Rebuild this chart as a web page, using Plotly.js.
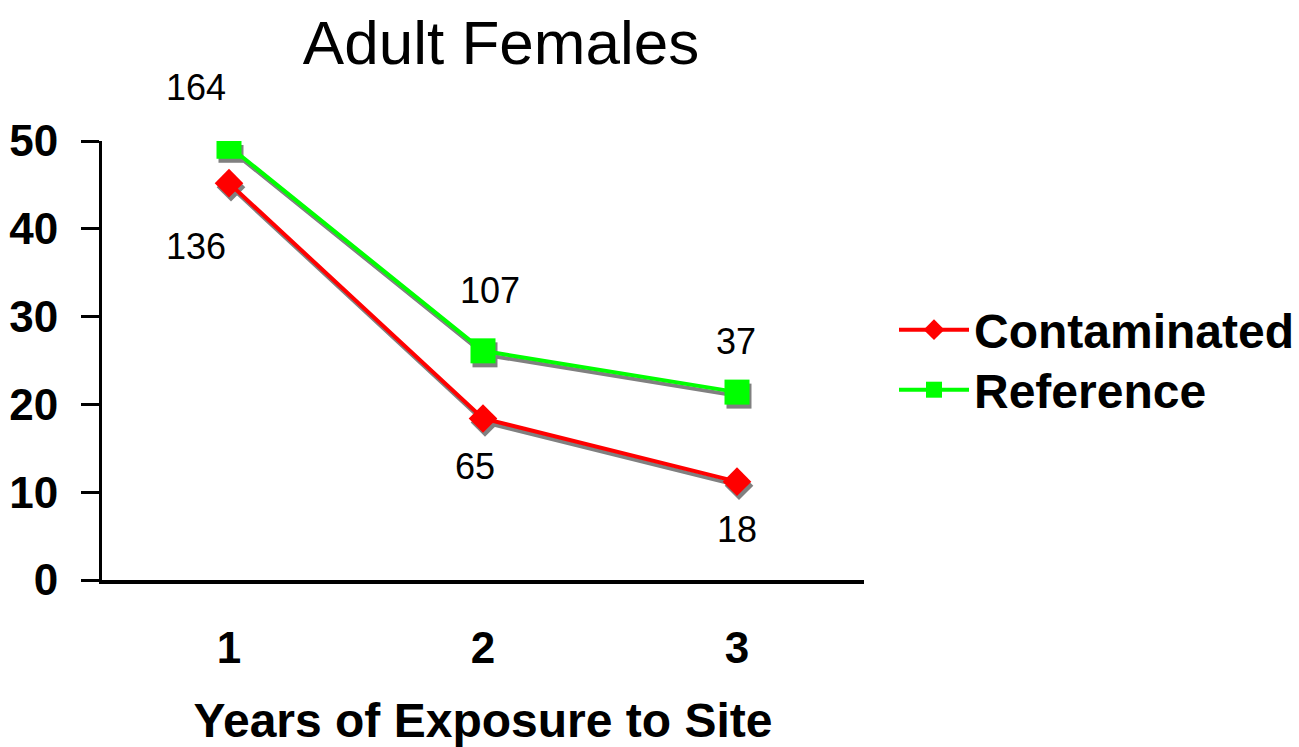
<!DOCTYPE html>
<html>
<head>
<meta charset="utf-8">
<script src="https://cdn.plot.ly/plotly-3.0.1.min.js"></script>
<style>html,body{margin:0;padding:0;background:#fff;}#chart{width:1299px;height:747px;}</style>
</head>
<body>
<div id="chart"></div>
<script>
// ---- data ----
const categories = [1, 2, 3];
const tickLabels = ["1", "2", "3"];
const contaminated = [45.2, 18.4, 11.2];
const reference = [49.4, 26.1, 21.4];
const nContaminated = [136, 65, 18];
const nReference = [164, 107, 37];

// ---- styling ----
const FONT = "Liberation Sans, Arial, sans-serif";
const W = 1299, H = 747;
const shadowDx = 2, shadowDy = 4;
const plotLeft = 102, plotRight = 864, plotTop = 141, plotBottom = 580;
const pw = plotRight - plotLeft + shadowDx;
const ph = plotBottom - plotTop + shadowDy;

const refShift = [[-33, 59], [7, 60], [-1, 51]];
const contShift = [[-33, -63], [-8, -48], [0, -48]];

function series(y, name, color, symbol, size, axX, axY, shadow, legendId) {
  const t = {
    x: categories, y: y, name: name, type: 'scatter', mode: 'lines+markers',
    xaxis: axX, yaxis: axY,
    line: {color: shadow ? '#808080' : color, width: 4},
    marker: {symbol: symbol, size: size, color: shadow ? '#808080' : color, line: {width: 0}},
    showlegend: !shadow, hoverinfo: 'skip'
  };
  if (legendId) t.legend = legendId;
  return t;
}

const data = [
  series(contaminated, 'Contaminated', '#ff0000', 'diamond', 22, 'x', 'y', true),
  series(reference, 'Reference', '#00ff00', 'square', 25, 'x', 'y', true),
  series(contaminated, 'Contaminated', '#ff0000', 'diamond', 22, 'x2', 'y2', false, 'legend'),
  series(reference, 'Reference', '#00ff00', 'square', 25, 'x2', 'y2', false, 'legend2')
];

const annotations = [];
categories.forEach((c, i) => {
  annotations.push({xref: 'x2', yref: 'y2', x: c, y: reference[i], text: String(nReference[i]),
    showarrow: false, xshift: refShift[i][0], yshift: refShift[i][1],
    font: {family: FONT, size: 36, color: '#000'}});
  annotations.push({xref: 'x2', yref: 'y2', x: c, y: contaminated[i], text: String(nContaminated[i]),
    showarrow: false, xshift: contShift[i][0], yshift: contShift[i][1],
    font: {family: FONT, size: 36, color: '#000'}});
});

function legendAt(yCenter) {
  return {xref: 'container', yref: 'container', x: 894 / W, y: 1 - yCenter / H, xanchor: 'left', yanchor: 'middle',
    font: {family: FONT, size: 48, weight: 'bold', color: '#000'}, itemwidth: 70,
    bgcolor: 'rgba(0,0,0,0)', borderwidth: 0, tracegroupgap: 0, itemsizing: 'trace'};
}

const layout = {
  width: W, height: H,
  margin: {l: plotLeft, r: W - plotRight - shadowDx, t: plotTop, b: H - plotBottom - shadowDy, pad: 0},
  paper_bgcolor: '#fff', plot_bgcolor: 'rgba(0,0,0,0)',
  font: {family: FONT, color: '#000'},
  title: {text: 'Adult Females', font: {family: FONT, size: 62, color: '#000'},
    xref: 'container', yref: 'container', x: 501 / W, y: 1 - 42 / H, xanchor: 'center', yanchor: 'middle'},
  xaxis: {domain: [shadowDx / pw, 1], anchor: 'y', range: [0.5, 3.5], visible: false, fixedrange: true},
  yaxis: {domain: [0, (ph - shadowDy) / ph], anchor: 'x', range: [0, 50], visible: false, fixedrange: true},
  xaxis2: {domain: [0, (pw - shadowDx) / pw], anchor: 'y2', range: [0.5, 3.5],
    tickmode: 'array', tickvals: categories, ticktext: tickLabels, ticks: '',
    ticklabelstandoff: 26,
    tickfont: {family: FONT, size: 44, weight: 'bold', color: '#000'},
    showline: true, linecolor: '#000', linewidth: 4, showgrid: false, zeroline: false,
    title: {text: 'Years of Exposure to Site', standoff: 34,
      font: {family: FONT, size: 48, weight: 'bold', color: '#000'}},
    automargin: false, fixedrange: true},
  yaxis2: {domain: [shadowDy / ph, 1], anchor: 'x2', range: [0, 50], tickmode: 'linear', tick0: 0, dtick: 10,
    ticks: 'outside', ticklen: 18, tickwidth: 3, tickcolor: '#000', ticklabelstandoff: 14,
    tickfont: {family: FONT, size: 44, weight: 'bold', color: '#000'},
    showline: true, linecolor: '#000', linewidth: 3, showgrid: false, zeroline: false,
    automargin: false, fixedrange: true},
  legend: legendAt(330),
  legend2: legendAt(390),
  annotations: annotations,
  showlegend: true
};

Plotly.newPlot('chart', data, layout, {displayModeBar: false, staticPlot: true});
</script>
</body>
</html>
